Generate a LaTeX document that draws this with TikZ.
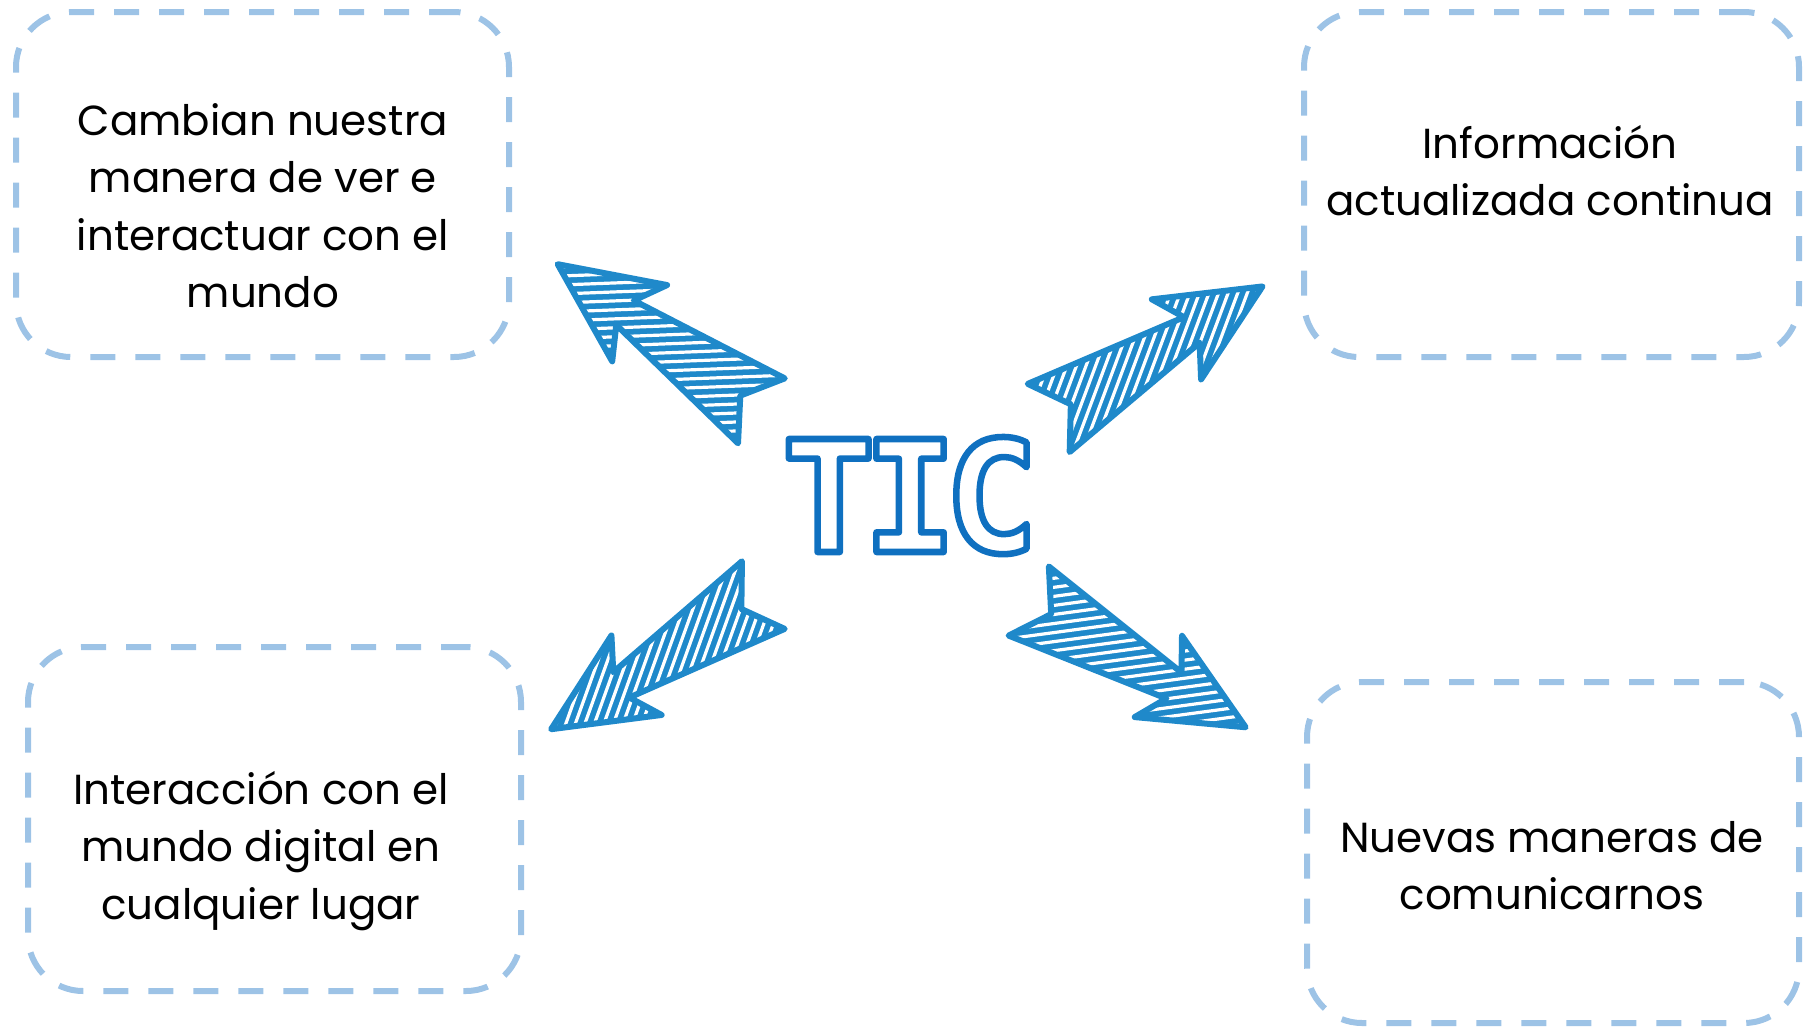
\documentclass[tikz,border=0pt]{standalone}
\usepackage{fontspec}
\setmainfont{Poppins}
\newfontfamily\ticfont{DejaVu Sans Mono}
\usetikzlibrary{calc}
\definecolor{boxblue}{HTML}{9DC3E6}
\definecolor{arrowblue}{HTML}{1F89CA}
\definecolor{ticblue}{HTML}{0F70C0}
\newcommand\outlinetext[2]{\special{pdf:literal direct #1 w 1 j 1 Tr}#2\special{pdf:literal direct 0 Tr}}
\def\arrowpath{(2,40) -- (170,15) -- (152,47) -- (253,0) -- (152,-47) -- (170,-15) -- (2,-40) -- (28,0) -- cycle}
\tikzset{
  dashbox/.style={rectangle, draw=boxblue, line width=6pt, dash pattern=on 25pt off 20pt, rounded corners=55pt, inner sep=0pt},
  boxtext/.style={align=center, font=\fontsize{42}{57.6}\selectfont, anchor=base, inner sep=0pt},
  ticstyle/.style={anchor=base, inner sep=0pt, text=ticblue, font=\ticfont\bfseries\fontsize{155}{160}\selectfont},
  pics/hatcharrow/.style={code={
    \fill[arrowblue] \arrowpath;
    \begin{scope}
      \clip \arrowpath;
      \foreach \k in {-8,...,26} {
        \draw[white, line width=3.2pt, line cap=round] (\k*14.6-95,74) -- (\k*14.6+95,-74);
      }
    \end{scope}
    \draw[arrowblue, line width=6pt, line join=round] \arrowpath;
  }}
}
\begin{document}
\begin{tikzpicture}[x=1pt, y=-1pt]
\useasboundingbox (0,0) rectangle (1806,1031);
% boxes
\node[dashbox, minimum width=493pt, minimum height=345pt] (b1) at (262.5,184.5) {};
\node[dashbox, minimum width=495pt, minimum height=345pt] (b2) at (1551.5,184.5) {};
\node[dashbox, minimum width=493pt, minimum height=344pt] (b3) at (274.5,819) {};
\node[dashbox, minimum width=492pt, minimum height=341pt] (b4) at (1553,852.5) {};
% texts (anchored at the baseline of the last line)
\node[boxtext] (t1) at (263,307.8) {Cambian nuestra\\manera de ver e\\interactuar con el\\mundo};
\node[boxtext] (t2) at (1550,215.6) {Información\\actualizada continua};
\node[boxtext] (t3) at (261,919.2) {Interacción con el\\mundo digital en\\cualquier lugar};
\node[boxtext] (t4) at (1552,909.6) {Nuevas maneras de\\comunicarnos};
% centre
\node[ticstyle] (tic) at (910,552) {\outlinetext{6.5}{T\kern-12pt I\kern-12pt C}};
% arrows
\coordinate (tlTail) at (763,412);
\coordinate (trTail) at (1047,419);
\coordinate (blTail) at (765,594);
\coordinate (brTail) at (1027,600);
\pic[rotate=144.25] at (tlTail) {hatcharrow};
\pic[rotate=31.6] at (trTail) {hatcharrow};
\pic[rotate=212.3] at (blTail) {hatcharrow};
\pic[rotate=-30.2] at (brTail) {hatcharrow};
\end{tikzpicture}
\end{document}
